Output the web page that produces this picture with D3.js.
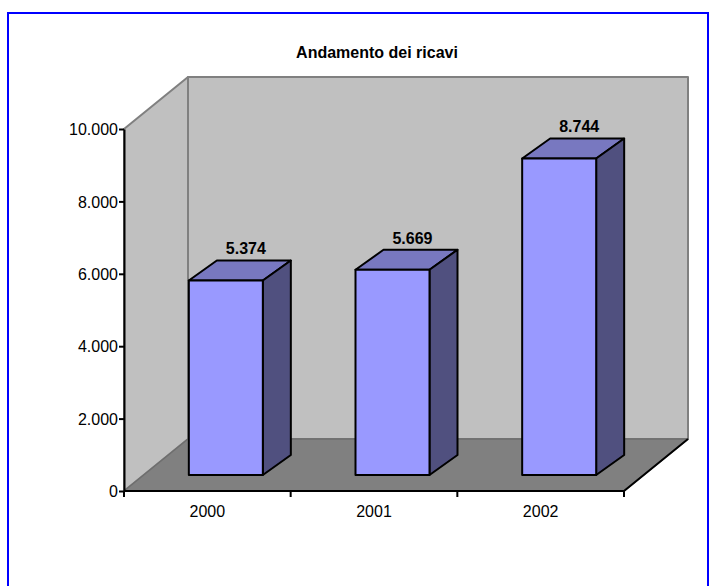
<!DOCTYPE html>
<html>
<head>
<meta charset="utf-8">
<script src="https://cdnjs.cloudflare.com/ajax/libs/d3/7.8.5/d3.min.js"></script>
<style>
html, body { margin: 0; padding: 0; background: #fff; }
svg { display: block; }
text { font-family: "Liberation Sans", Arial, sans-serif; fill: #000; }
</style>
</head>
<body>
<svg id="chart" width="716" height="586"></svg>
<script>
var title = "Andamento dei ricavi";
var years = ["2000", "2001", "2002"];
var ricavi = [5374, 5669, 8744];
var yTicks = [0, 2000, 4000, 6000, 8000, 10000];

var svg = d3.select("#chart");

// Outer frame
svg.append("rect")
    .attr("x", 8).attr("y", 13)
    .attr("width", 700).attr("height", 600)
    .attr("fill", "#fff")
    .attr("stroke", "#0000ff")
    .attr("stroke-width", 2);

var x = d3.scaleBand().domain(years).range([124, 624]).paddingInner(0).paddingOuter(0);
var y = d3.scaleLinear().domain([0, 10000]).range([491, 129]);

// Depth of the 3d box and of the bars
var depth = { x: 64, y: -52 };
var barDepth = { x: 28, y: -20 };
var barShift = { x: 18.5, y: -16 };
var barWidth = 74;

var x0 = x.range()[0], x1 = x.range()[1];
var y0 = y(0), yTop = y(10000);

function poly(points, fill, stroke, width) {
    return svg.append("polygon")
        .attr("points", points.map(function(p) { return p.join(","); }).join(" "))
        .attr("fill", fill)
        .attr("stroke", stroke)
        .attr("stroke-width", width)
        .attr("stroke-linejoin", "round");
}

// Walls and floor
poly([[x0, yTop], [x0 + depth.x, yTop + depth.y], [x0 + depth.x, y0 + depth.y], [x0, y0]], "#c0c0c0", "#808080", 2);
poly([[x0 + depth.x, yTop + depth.y], [x1 + depth.x, yTop + depth.y], [x1 + depth.x, y0 + depth.y], [x0 + depth.x, y0 + depth.y]], "#c0c0c0", "#808080", 2);
poly([[x0, y0], [x0 + depth.x, y0 + depth.y], [x1 + depth.x, y0 + depth.y], [x1, y0]], "#808080", "#6e6e6e", 1.5);

// Black front and right edges of the floor
svg.append("path")
    .attr("d", d3.line()([[x0, y0], [x1, y0], [x1 + depth.x, y0 + depth.y]]))
    .attr("fill", "none")
    .attr("stroke", "#000")
    .attr("stroke-width", 2);

// Axes
var yAxis = d3.axisLeft(y).tickValues(yTicks).tickSize(5).tickSizeOuter(0)
    .tickFormat(function(d) { return d3.format(",")(d).replace(",", "."); });
svg.append("g")
    .attr("transform", "translate(" + x0 + ",0)")
    .call(yAxis)
    .call(function(g) {
        g.selectAll("path, line").attr("stroke", "#000").attr("stroke-width", 2);
        g.selectAll("text").attr("font-size", 16).attr("x", -6).attr("dy", "0.36em");
    });

var xAxis = d3.axisBottom(x).tickSize(0).tickSizeOuter(0);
svg.append("g")
    .attr("transform", "translate(0," + y0 + ")")
    .call(xAxis)
    .call(function(g) {
        g.select(".domain").remove();
        g.selectAll("text").attr("font-size", 16).attr("y", 15).attr("dy", "0.71em");
    });

// Ticks between the categories
svg.append("g").selectAll("line")
    .data(years.map(function(d) { return x(d); }).concat([x1]))
    .join("line")
    .attr("x1", function(d) { return d; }).attr("x2", function(d) { return d; })
    .attr("y1", y0).attr("y2", y0 + 6)
    .attr("stroke", "#000").attr("stroke-width", 2);

// Bars
var baseY = function(v) { return y(v) + barShift.y; };
var bars = svg.append("g").selectAll("g")
    .data(ricavi)
    .join("g");

bars.each(function(v, i) {
    var left = x(years[i]) + (x.bandwidth() - barWidth) / 2 + barShift.x;
    var right = left + barWidth;
    var top = baseY(v), bottom = baseY(0);
    poly([[left, top], [right, top], [right + barDepth.x, top + barDepth.y], [left + barDepth.x, top + barDepth.y]], "#7878c0", "#000", 2);
    poly([[right, top], [right + barDepth.x, top + barDepth.y], [right + barDepth.x, bottom + barDepth.y], [right, bottom]], "#50507f", "#000", 2);
    poly([[left, top], [right, top], [right, bottom], [left, bottom]], "#9999ff", "#000", 2);
    svg.append("text")
        .attr("x", left + barWidth / 2 + 20)
        .attr("y", top + barDepth.y - 6)
        .attr("text-anchor", "middle")
        .attr("font-size", 16)
        .attr("font-weight", "bold")
        .text(d3.format(",")(v).replace(",", "."));
});

svg.append("text")
    .attr("x", 377).attr("y", 58)
    .attr("text-anchor", "middle")
    .attr("font-size", 16)
    .attr("font-weight", "bold")
    .text(title);
</script>
</body>
</html>
